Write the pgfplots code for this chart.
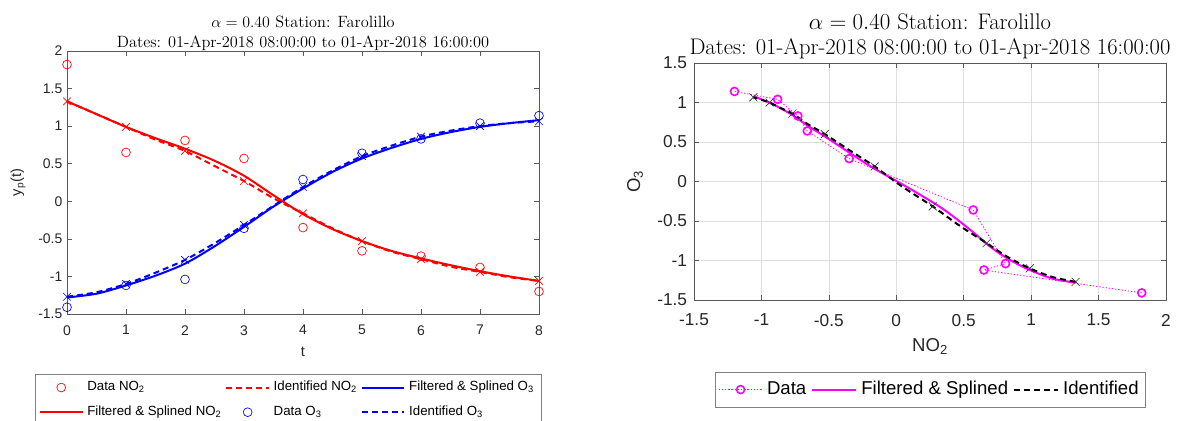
\documentclass[border=0pt]{standalone}
\usepackage{pgfplots}
\pgfplotsset{compat=1.18}
\usepackage{pgfplotstable}
\usepackage{fontspec}
\newfontfamily\arial{Liberation Sans}
\definecolor{mred}{rgb}{1,0,0}
\definecolor{mblue}{rgb}{0,0,1}
\definecolor{mmag}{rgb}{1,0,1}

% measured concentrations (normalised), one row per hour
\pgfplotstableread{
t   no2    o3
0   1.82  -1.41
1   0.65  -1.12
2   0.81  -1.04
3   0.57  -0.36
4  -0.35   0.29
5  -0.66   0.64
6  -0.73   0.83
7  -0.88   1.04
8  -1.20   1.14
}\meas

% filtered & splined (f*) and identified (i*) trajectories
\pgfplotstableread{
t    fno2   fo3    ino2   io3
0    1.33  -1.28   1.33  -1.27
0.5  1.16  -1.23   1.16  -1.21
1    0.99  -1.12   0.99  -1.10
1.5  0.84  -0.99   0.82  -0.95
2    0.70  -0.83   0.67  -0.78
2.5  0.54  -0.60   0.47  -0.56
3    0.34  -0.34   0.27  -0.315
3.5  0.08  -0.07   0.04  -0.06
4   -0.17   0.17  -0.16   0.19
4.5 -0.37   0.39  -0.36   0.41
5   -0.53   0.57  -0.53   0.60
5.5 -0.66   0.71  -0.67   0.74
6   -0.76   0.83  -0.77   0.86
6.5 -0.85   0.92  -0.87   0.94
7   -0.93   0.99  -0.94   1.00
7.5 -1.00   1.04  -1.01   1.04
8   -1.06   1.08  -1.06   1.065
}\curves

\pgfplotsset{
  mlaxis/.style={
    scale only axis, width=354bp, anchor=south west, clip=false,
    axis line style={draw=black!65, line width=0.45bp},
    tick style={draw=black!65, line width=0.45bp},
    major tick length=3.5bp, tick align=inside,
    xtick pos=both, ytick pos=both,
    xticklabel pos=lower, yticklabel pos=left,
    minor tick num=0,
    /pgf/number format/assume math mode=true,
    tick label style={text=black!85},
    label style={text=black!85},
    title style={align=center, inner sep=0pt, anchor=south, at={(0.5,1)}},
    legend cell align=left,
  },
  lline/.style={legend image code/.code={\draw[##1] (0bp,0bp) -- (#1,0bp);}},
  lmark/.style={legend image code/.code={\path[draw=none] (0bp,0bp) -- (#1,0bp);
      \draw[##1] plot coordinates {({#1/2},0bp)};}},
  lboth/.style={legend image code/.code={\draw[##1, mark repeat=2, mark phase=2]
      plot coordinates {(0bp,0bp) ({#1/2},0bp) (#1,0bp)};}},
}

\begin{document}
\begin{tikzpicture}
\useasboundingbox (0,0) rectangle (888.75bp,-315.75bp);

% ---- time series ----
\begin{axis}[mlaxis,
  at={(50.25bp,-235.5bp)}, height=197.25bp,
  xmin=0, xmax=8, ymin=-1.5, ymax=2,
  xtick={0,...,8}, ytick={-1.5,-1,...,2},
  tick label style={font=\arial\fontsize{10.5}{12}\selectfont},
  xticklabel style={yshift=-5bp},
  title={$\alpha = 0.40$ Station: Farolillo\\Dates: 01-Apr-2018 08:00:00 to 01-Apr-2018 16:00:00},
  title style={font=\fontsize{12.3}{15}\selectfont, yshift=-6pt},
  xlabel={t}, ylabel={y\textsubscript{p}(t)},
  label style={font=\arial\fontsize{11}{13}\selectfont},
  xlabel style={at={(axis description cs:0.5,-0.1445)}, anchor=center},
  ylabel style={at={(axis description cs:-0.1038,0.5)}, anchor=center},
  legend columns=3,
  legend style={at={(-0.0686,-0.2266)}, anchor=north west,
    draw=black!50, line width=0.4bp, fill=white,
    font=\arial\fontsize{10}{12}\selectfont,
    inner xsep=3bp, inner ysep=4bp, row sep=6bp,
    nodes={inner xsep=2.8bp, inner ysep=1bp, text height=7.5bp, text depth=3bp},
    /tikz/every even column/.append style={column sep=0bp}},
]
\addplot[mred, only marks, mark=o, mark size=3.3bp, line width=0.5bp, lmark=32bp]
  table[x=t, y=no2]{\meas};
\addlegendentry{Data NO\textsubscript{2}}
\addplot[mred, line width=1.5bp, dash pattern=on 4.5bp off 3bp, smooth, lline=32bp]
  table[x=t, y=ino2]{\curves};
\addlegendentry{Identified NO\textsubscript{2}}
\addplot[mblue, line width=1.5bp, smooth, lline=32bp]
  table[x=t, y=fo3]{\curves};
\addlegendentry{Filtered \& Splined O\textsubscript{3}}
\addplot[mred, line width=1.5bp, smooth, lline=32bp]
  table[x=t, y=fno2]{\curves};
\addlegendentry{Filtered \& Splined NO\textsubscript{2}}
\addplot[mblue, only marks, mark=o, mark size=3.3bp, line width=0.5bp, lmark=32bp]
  table[x=t, y=o3]{\meas};
\addlegendentry{Data O\textsubscript{3}}
\addplot[mblue, line width=1.5bp, dash pattern=on 4.5bp off 3bp, smooth, lline=32bp]
  table[x=t, y=io3]{\curves};
\addlegendentry{Identified O\textsubscript{3}}
% identified values at the sampling instants
\addplot[forget plot, mred, only marks, mark=x, mark size=4bp, line width=0.5bp, each nth point=2]
  table[x=t, y=ino2]{\curves};
\addplot[forget plot, mblue, only marks, mark=x, mark size=4bp, line width=0.5bp, each nth point=2]
  table[x=t, y=io3]{\curves};
\end{axis}

% ---- phase plane ----
\begin{axis}[mlaxis,
  at={(520.5bp,-225bp)}, height=177.75bp,
  xmin=-1.5, xmax=2, ymin=-1.5, ymax=1.5,
  xtick={-1.5,-1,...,2}, ytick={-1.5,-1,...,1.5},
  grid=major, grid style={draw=black!13, line width=0.45bp},
  tick label style={font=\arial\fontsize{13}{15}\selectfont},
  xticklabel style={yshift=-7bp},
  yticklabel style={xshift=-1.7bp},
  title={$\alpha = 0.40$ Station: Farolillo\\Dates: 01-Apr-2018 08:00:00 to 01-Apr-2018 16:00:00},
  title style={font=\fontsize{17}{18.5}\selectfont, yshift=-3bp},
  xlabel={NO\textsubscript{2}}, ylabel={O\textsubscript{3}},
  label style={font=\arial\fontsize{14}{16}\selectfont},
  xlabel style={at={(axis description cs:0.5,-0.198)}, anchor=center},
  ylabel style={at={(axis description cs:-0.125,0.5)}, anchor=center},
  legend columns=3,
  legend style={at={(0.0445,-0.3038)}, anchor=north west,
    draw=black!50, line width=0.4bp, fill=white,
    font=\arial\fontsize{14}{16}\selectfont,
    inner xsep=2.2bp, inner ysep=5.5bp,
    nodes={inner xsep=3bp, inner ysep=1bp, text height=10bp, text depth=3bp},
    /tikz/every even column/.append style={column sep=0.8bp}},
]
\addplot[mmag, line width=0.6bp, dash pattern=on 1bp off 1.4bp,
  mark=o, mark size=3bp, mark options={solid, line width=1.2bp}, lboth=33bp]
  table[x=no2, y=o3]{\meas};
\addlegendentry{Data}
\addplot[mmag, line width=1.5bp, smooth, lline=33bp]
  table[x=fno2, y=fo3]{\curves};
\addlegendentry{Filtered \& Splined}
\addplot[black, line width=1.5bp, dash pattern=on 4.5bp off 3bp, smooth, lline=33bp]
  table[x=ino2, y=io3]{\curves};
\addlegendentry{Identified}
\addplot[forget plot, black!80, only marks, mark=x, mark size=4.2bp, line width=0.5bp, each nth point=2]
  table[x=ino2, y=io3]{\curves};
\end{axis}
\end{tikzpicture}
\end{document}
